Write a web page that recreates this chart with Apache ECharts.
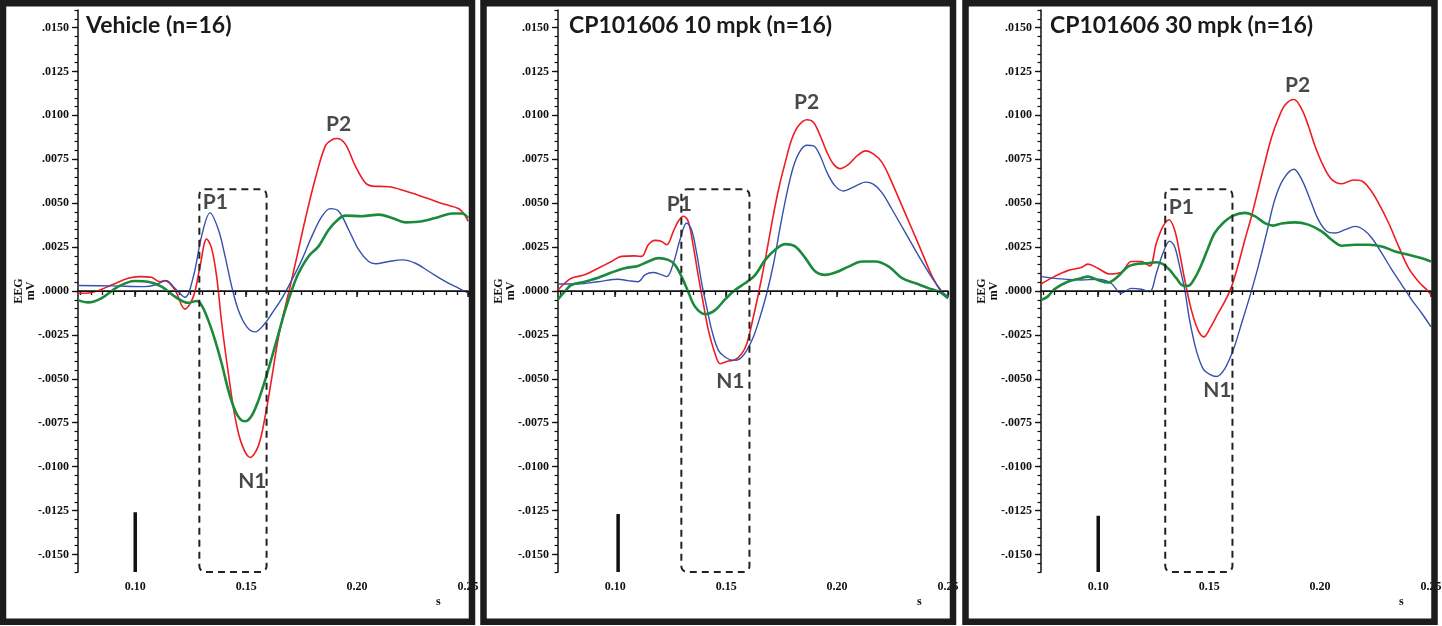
<!DOCTYPE html>
<html>
<head>
<meta charset="utf-8">
<title>EEG evoked potentials</title>
<script src="https://cdn.jsdelivr.net/npm/echarts@6.0.0/dist/echarts.min.js"></script>
<style>
    html, body { margin: 0; padding: 0; background: #ffffff; }
    #chart { width: 1442px; height: 626px; }
</style>
</head>
<body>
<div id="chart"></div>
<script>
// panel titles
const panelTitles = ['Vehicle (n=16)', 'CP101606 10 mpk (n=16)', 'CP101606 30 mpk (n=16)'];

// axis ticks
const xTicks = [0.10, 0.15, 0.20, 0.25];
const yTicks = [-0.015, -0.0125, -0.01, -0.0075, -0.005, -0.0025, 0, 0.0025, 0.005, 0.0075, 0.01, 0.0125, 0.015];

// ---- Vehicle ----
const vehRedT = [0.0742, 0.0799, 0.0893, 0.0968, 0.1021, 0.1073, 0.1111, 0.1134, 0.1179, 0.1224, 0.1262, 0.1292, 0.1322, 0.1344, 0.1367, 0.1390, 0.1420, 0.1450, 0.1480, 0.1518, 0.1555, 0.1585, 0.1616, 0.1646, 0.1676, 0.1698, 0.1729, 0.1766, 0.1811, 0.1857, 0.1887, 0.1909, 0.1947, 0.1992, 0.2037, 0.2068, 0.2143, 0.2218, 0.2309, 0.2399, 0.2459, 0.2489, 0.2500];
const vehRedV = [-0.00013, -0.0001, 0.00034, 0.00073, 0.00082, 0.00078, 0.00053, 0.00059, 0.00006, -0.00103, -0.00032, 0.00139, 0.00296, 0.00244, 0.00082, -0.00185, -0.00471, -0.00719, -0.00872, -0.00948, -0.00882, -0.00719, -0.0049, -0.00261, -0.0009, 0.00025, 0.00197, 0.00406, 0.00636, 0.00826, 0.00861, 0.00868, 0.00836, 0.00712, 0.00616, 0.00597, 0.00594, 0.00569, 0.00531, 0.00492, 0.00468, 0.00426, 0.00397];
const vehBlueT = [0.0742, 0.0893, 0.1043, 0.1088, 0.1141, 0.1179, 0.1224, 0.1262, 0.1299, 0.1337, 0.1375, 0.1405, 0.1435, 0.1465, 0.1503, 0.1540, 0.1578, 0.1616, 0.1661, 0.1706, 0.1751, 0.1796, 0.1842, 0.1879, 0.1917, 0.1962, 0.2007, 0.2052, 0.2083, 0.2143, 0.2203, 0.2263, 0.2324, 0.2399, 0.2459, 0.2500];
const vehBlueV = [0.00031, 0.00029, 0.00025, 0.00034, 0.00059, 0.00015, -0.00036, 0.00082, 0.00311, 0.00445, 0.00349, 0.00197, 0.00025, -0.00109, -0.00204, -0.00233, -0.00195, -0.00128, -0.00042, 0.00063, 0.00177, 0.00311, 0.00426, 0.00469, 0.00454, 0.00349, 0.00235, 0.00168, 0.00155, 0.00168, 0.00177, 0.00158, 0.00111, 0.00053, 0.00015, -0.0001];
const vehGreenT = [0.0742, 0.0787, 0.0847, 0.0923, 0.0998, 0.1058, 0.1119, 0.1179, 0.1239, 0.1277, 0.1299, 0.1329, 0.1360, 0.1390, 0.1420, 0.1450, 0.1473, 0.1495, 0.1525, 0.1555, 0.1585, 0.1616, 0.1646, 0.1676, 0.1706, 0.1736, 0.1781, 0.1826, 0.1872, 0.1917, 0.1947, 0.2022, 0.2098, 0.2158, 0.2218, 0.2293, 0.2369, 0.2429, 0.2474, 0.2500];
const vehGreenV = [-0.00052, -0.00065, -0.00042, 0.00025, 0.00057, 0.00053, 0.00025, -0.00032, -0.00067, -0.00057, -0.0008, -0.00166, -0.00281, -0.00414, -0.00567, -0.00681, -0.00729, -0.00742, -0.0071, -0.00624, -0.0051, -0.00376, -0.00242, -0.00109, 0.00006, 0.00101, 0.00197, 0.00254, 0.00349, 0.0041, 0.00429, 0.00426, 0.00435, 0.00416, 0.00391, 0.00397, 0.00422, 0.00441, 0.00441, 0.00416];

// ---- CP101606 10 mpk ----
const lowRedT = [0.0742, 0.0772, 0.0802, 0.0862, 0.0923, 0.0983, 0.1028, 0.1088, 0.1119, 0.1149, 0.1179, 0.1209, 0.1232, 0.1262, 0.1284, 0.1307, 0.1329, 0.1352, 0.1375, 0.1397, 0.1420, 0.1450, 0.1473, 0.1510, 0.1540, 0.1570, 0.1593, 0.1616, 0.1646, 0.1676, 0.1706, 0.1736, 0.1766, 0.1796, 0.1826, 0.1864, 0.1894, 0.1924, 0.1955, 0.1985, 0.2015, 0.2052, 0.2090, 0.2128, 0.2165, 0.2203, 0.2241, 0.2293, 0.2339, 0.2384, 0.2429, 0.2474, 0.2500];
const lowRedV = [0.00006, 0.00044, 0.00073, 0.00092, 0.0013, 0.00168, 0.00197, 0.002, 0.00197, 0.00263, 0.00288, 0.00282, 0.00263, 0.0034, 0.00397, 0.00426, 0.00397, 0.00254, 0.00082, -0.00071, -0.00223, -0.00357, -0.00414, -0.00399, -0.00391, -0.00357, -0.003, -0.00185, -0.00013, 0.00177, 0.00387, 0.00578, 0.00731, 0.00865, 0.00941, 0.00975, 0.0096, 0.00884, 0.00788, 0.00721, 0.00697, 0.00721, 0.00769, 0.00798, 0.00779, 0.00731, 0.00636, 0.00483, 0.00349, 0.00216, 0.00082, -0.00013, -0.00042];
const lowBlueT = [0.0742, 0.0832, 0.0923, 0.1013, 0.1058, 0.1103, 0.1134, 0.1171, 0.1209, 0.1232, 0.1262, 0.1292, 0.1322, 0.1344, 0.1367, 0.1390, 0.1412, 0.1435, 0.1465, 0.1495, 0.1533, 0.1563, 0.1593, 0.1623, 0.1653, 0.1683, 0.1714, 0.1744, 0.1774, 0.1804, 0.1834, 0.1864, 0.1894, 0.1924, 0.1955, 0.1992, 0.2030, 0.2068, 0.2098, 0.2128, 0.2165, 0.2203, 0.2248, 0.2309, 0.2369, 0.2429, 0.2474, 0.2500];
const lowBlueV = [0.0004, 0.0004, 0.00053, 0.00067, 0.00059, 0.00053, 0.00092, 0.00105, 0.00092, 0.00082, 0.00158, 0.00292, 0.00387, 0.00349, 0.00216, 0.00044, -0.0009, -0.00223, -0.00338, -0.00376, -0.00395, -0.00385, -0.00338, -0.00261, -0.00147, -0.00013, 0.00158, 0.00368, 0.00559, 0.00712, 0.00798, 0.0083, 0.00826, 0.00769, 0.00674, 0.00597, 0.00569, 0.00588, 0.00607, 0.0062, 0.00607, 0.00559, 0.00464, 0.0033, 0.00197, 0.00073, -0.00004, -0.00032];
const lowGreenT = [0.0742, 0.0772, 0.0802, 0.0862, 0.0923, 0.0983, 0.1043, 0.1103, 0.1149, 0.1194, 0.1239, 0.1269, 0.1299, 0.1329, 0.1360, 0.1405, 0.1450, 0.1495, 0.1540, 0.1585, 0.1631, 0.1676, 0.1721, 0.1766, 0.1811, 0.1857, 0.1902, 0.1947, 0.1992, 0.2052, 0.2113, 0.2173, 0.2233, 0.2293, 0.2354, 0.2414, 0.2459, 0.2500];
const lowGreenV = [-0.00048, -0.00004, 0.00034, 0.00053, 0.00076, 0.00105, 0.0013, 0.00143, 0.00168, 0.00187, 0.00177, 0.00149, 0.00082, -0.00004, -0.0009, -0.00132, -0.00109, -0.00048, 0.00006, 0.00044, 0.00092, 0.00177, 0.00235, 0.00267, 0.00254, 0.00187, 0.00111, 0.00092, 0.00105, 0.00139, 0.00168, 0.00168, 0.00139, 0.00073, 0.00044, 0.00015, -0.00004, -0.00042];

// ---- CP101606 30 mpk ----
const highRedT = [0.0742, 0.0802, 0.0862, 0.0923, 0.0953, 0.0998, 0.1051, 0.1103, 0.1149, 0.1194, 0.1232, 0.1262, 0.1292, 0.1319, 0.1344, 0.1367, 0.1390, 0.1420, 0.1450, 0.1476, 0.1503, 0.1540, 0.1570, 0.1601, 0.1631, 0.1661, 0.1691, 0.1721, 0.1751, 0.1781, 0.1811, 0.1842, 0.1882, 0.1917, 0.1947, 0.1977, 0.2015, 0.2052, 0.2098, 0.2150, 0.2188, 0.2226, 0.2263, 0.2309, 0.2354, 0.2399, 0.2444, 0.2482, 0.2500];
const highRedV = [0.0004, 0.00082, 0.00116, 0.00134, 0.00153, 0.0013, 0.00097, 0.00105, 0.00168, 0.00168, 0.00143, 0.00273, 0.00368, 0.00406, 0.00349, 0.00216, 0.00063, -0.00109, -0.00223, -0.00261, -0.00214, -0.00128, -0.00061, 0.00025, 0.00149, 0.00292, 0.00426, 0.00578, 0.00731, 0.00874, 0.00979, 0.01059, 0.0109, 0.01036, 0.00941, 0.00826, 0.00712, 0.00636, 0.00611, 0.00632, 0.00626, 0.00578, 0.00502, 0.00387, 0.00254, 0.0013, 0.00053, 0.00006, -0.00023];
const highBlueT = [0.0742, 0.0832, 0.0923, 0.0998, 0.1058, 0.1103, 0.1149, 0.1194, 0.1232, 0.1262, 0.1292, 0.1322, 0.1344, 0.1367, 0.1390, 0.1412, 0.1442, 0.1473, 0.1503, 0.1533, 0.1570, 0.1608, 0.1646, 0.1683, 0.1721, 0.1759, 0.1796, 0.1834, 0.1882, 0.1917, 0.1955, 0.1992, 0.2030, 0.2068, 0.2113, 0.2158, 0.2196, 0.2233, 0.2278, 0.2324, 0.2369, 0.2414, 0.2459, 0.2500];
const highBlueV = [0.00082, 0.00069, 0.00063, 0.00067, 0.00044, -0.00013, 0.00015, 0.0001, -0.00004, 0.00101, 0.00216, 0.00284, 0.00254, 0.00139, 0.00006, -0.00166, -0.00338, -0.00443, -0.00475, -0.00487, -0.00443, -0.00338, -0.00185, -0.00032, 0.00139, 0.0033, 0.00521, 0.00636, 0.00693, 0.00636, 0.00521, 0.00406, 0.0034, 0.0033, 0.00349, 0.00368, 0.00349, 0.00302, 0.00216, 0.0012, 0.00034, -0.00052, -0.00128, -0.00204];
const highGreenT = [0.0742, 0.0772, 0.0802, 0.0862, 0.0923, 0.0953, 0.0998, 0.1043, 0.1088, 0.1134, 0.1179, 0.1224, 0.1262, 0.1292, 0.1322, 0.1352, 0.1382, 0.1405, 0.1435, 0.1465, 0.1495, 0.1525, 0.1563, 0.1608, 0.1661, 0.1706, 0.1751, 0.1789, 0.1826, 0.1887, 0.1947, 0.2007, 0.2052, 0.2098, 0.2158, 0.2218, 0.2278, 0.2339, 0.2399, 0.2459, 0.2500];
const highGreenV = [-0.00052, -0.00032, 0.0001, 0.00053, 0.00073, 0.00082, 0.00063, 0.00048, 0.00082, 0.00139, 0.00155, 0.00158, 0.00164, 0.00153, 0.0012, 0.00073, 0.00031, 0.00029, 0.00073, 0.00149, 0.00244, 0.0033, 0.00387, 0.00429, 0.00445, 0.00426, 0.00387, 0.00372, 0.00384, 0.00391, 0.00378, 0.0034, 0.00292, 0.00258, 0.00263, 0.00263, 0.00254, 0.00225, 0.00206, 0.00187, 0.00168];

// stimulus marker (x, top) per panel
const stimX = [0.100, 0.1013, 0.100];
const stimTop = [-0.0126, -0.0127, -0.0128];

// dashed window around P1/N1: [start, end, top] per panel
const windowBox = [[0.1289, 0.1592, 0.0058], [0.1298, 0.1605, 0.0058], [0.1302, 0.1605, 0.0058]];

// component labels per panel
const peakNames = ['P1', 'N1', 'P2'];
const peakPos = [
    [[0.1361, 0.00507], [0.1528, -0.01083], [0.1917, 0.00952]],
    [[0.1289, 0.00496], [0.1519, -0.00513], [0.1863, 0.01077]],
    [[0.1375, 0.00479], [0.1537, -0.00564], [0.1899, 0.01174]]
];

const X_MIN = 0.0742, X_MAX = 0.25;
const Y_MIN = -0.016, Y_MAX = 0.016;

const panels = [
    { red: [vehRedT, vehRedV], blue: [vehBlueT, vehBlueV], green: [vehGreenT, vehGreenV] },
    { red: [lowRedT, lowRedV], blue: [lowBlueT, lowBlueV], green: [lowGreenT, lowGreenV] },
    { red: [highRedT, highRedV], blue: [highBlueT, highBlueV], green: [highGreenT, highGreenV] }
];

// minor tick positions
const xMinor = [];
for (let i = 0; i <= 35; i++) xMinor.push(+(0.075 + i * 0.005).toFixed(3));
const yMinor = [];
for (let i = 0; i <= 64; i++) yMinor.push(+(-0.016 + i * 0.0005).toFixed(4));

const gridLefts = [78, 558, 1041];
const titleLefts = [86, 569, 1050];
const sLefts = [436, 917, 1399];
const borders = [[3, 469], [483.5, 469.5], [965.5, 469]];

const serifFont = "'Liberation Serif', 'DejaVu Serif', serif";
const sansFont = "Lato, 'Open Sans', sans-serif";

function zip(t, v) {
    return t.map((x, i) => [x, v[i]]);
}

function yFmt(v) {
    const s = Math.abs(v).toFixed(4).slice(1);
    return (v < -1e-9 ? '-' : '') + s;
}

const grids = [], xAxes = [], yAxes = [], series = [], titles = [], graphics = [];

panels.forEach((p, i) => {
    grids.push({ left: gridLefts[i], top: 10, width: 390, height: 562, outerBoundsMode: 'none' });

    // main x axis
    xAxes.push({
        type: 'value', gridIndex: i, min: X_MIN, max: X_MAX, position: 'bottom',
        axisLine: { show: true, lineStyle: { color: '#111', width: 1.5 } },
        axisTick: { show: true, customValues: xTicks, length: 6, lineStyle: { color: '#111', width: 1.5 } },
        axisLabel: {
            customValues: xTicks, margin: 9, color: '#111',
            fontFamily: serifFont, fontWeight: 'bold', fontSize: 12,
            formatter: v => v.toFixed(2)
        },
        splitLine: { show: false }
    });
    // minor x ticks
    xAxes.push({
        type: 'value', gridIndex: i, min: X_MIN, max: X_MAX, position: 'bottom',
        axisLine: { show: false },
        axisTick: { show: true, customValues: xMinor, length: 4, lineStyle: { color: '#111', width: 1.3 } },
        axisLabel: { show: false },
        splitLine: { show: false }
    });
    // main y axis
    yAxes.push({
        type: 'value', gridIndex: i, min: Y_MIN, max: Y_MAX, position: 'left',
        name: 'EEG\nmV', nameLocation: 'middle', nameGap: 41, nameRotate: 90,
        nameMoveOverlap: false,
        nameTextStyle: { fontFamily: serifFont, fontWeight: 'bold', fontSize: 12, color: '#111', lineHeight: 12 },
        axisLine: { show: true, lineStyle: { color: '#111', width: 1.5 } },
        axisTick: { show: true, customValues: yTicks, length: 6, lineStyle: { color: '#111', width: 1.3 } },
        axisLabel: {
            customValues: yTicks, margin: 9, color: '#111',
            fontFamily: serifFont, fontWeight: 'bold', fontSize: 12,
            formatter: yFmt
        },
        splitLine: { show: false }
    });
    // minor y ticks
    yAxes.push({
        type: 'value', gridIndex: i, min: Y_MIN, max: Y_MAX, position: 'left',
        axisLine: { show: false },
        axisTick: { show: true, customValues: yMinor, length: 3.5, lineStyle: { color: '#111', width: 1.2 } },
        axisLabel: { show: false },
        splitLine: { show: false }
    });

    const xi = 2 * i, yi = 2 * i;

    series.push({
        type: 'line', xAxisIndex: xi, yAxisIndex: yi, data: zip(p.red[0], p.red[1]),
        smooth: 0.35, showSymbol: false, lineStyle: { color: '#ee1d23', width: 1.6 },
        markLine: {
            silent: true, symbol: 'none', label: { show: false },
            lineStyle: { color: '#111', width: 1.2, type: 'solid' },
            data: [{ yAxis: 0 }]
        },
        z: 3
    });
    series.push({
        type: 'line', xAxisIndex: xi, yAxisIndex: yi, data: zip(p.blue[0], p.blue[1]),
        smooth: 0.35, showSymbol: false, lineStyle: { color: '#3651ad', width: 1.4 }, z: 3
    });
    series.push({
        type: 'line', xAxisIndex: xi, yAxisIndex: yi, data: zip(p.green[0], p.green[1]),
        smooth: 0.35, showSymbol: false, lineStyle: { color: '#1c8a3c', width: 2.6 }, z: 3
    });

    // stimulus bar
    series.push({
        type: 'line', xAxisIndex: xi, yAxisIndex: yi,
        data: [[stimX[i], stimTop[i]], [stimX[i], Y_MIN]],
        showSymbol: false, lineStyle: { color: '#111', width: 3.5 }, z: 2
    });

    // dashed window
    series.push({
        type: 'custom', xAxisIndex: xi, yAxisIndex: yi,
        data: [windowBox[i]],
        encode: { x: [0, 1], y: 2 },
        renderItem: function (params, api) {
            const a = api.coord([api.value(0), api.value(2)]);
            const b = api.coord([api.value(1), Y_MIN]);
            return {
                type: 'rect',
                shape: { x: a[0], y: a[1], width: b[0] - a[0], height: b[1] - a[1], r: 6 },
                style: { fill: 'none', stroke: '#222', lineWidth: 2, lineDash: [7, 5] }
            };
        },
        z: 4
    });

    // component labels
    series.push({
        type: 'scatter', xAxisIndex: xi, yAxisIndex: yi, symbolSize: 0,
        data: peakPos[i].map((c, k) => ({ name: peakNames[k], value: c })),
        label: {
            show: true, position: 'inside', formatter: '{b}',
            fontFamily: sansFont, fontWeight: 'bold', fontSize: 21, color: '#1a1a1a'
        },
        z: 6
    });

    titles.push({
        text: panelTitles[i], left: titleLefts[i], top: 14, padding: 0,
        textStyle: { fontFamily: sansFont, fontWeight: 'bold', fontSize: 23, color: '#1a1a1a' }
    });

    graphics.push({
        type: 'text', left: sLefts[i], top: 596, z: 50,
        style: { text: 's', fontFamily: serifFont, fontWeight: 'bold', fontSize: 12, fill: '#111' }
    });
    graphics.push({
        type: 'rect', z: 100,
        shape: { x: borders[i][0], y: 3.2, width: borders[i][1], height: 618.5 },
        style: { fill: 'none', stroke: '#1c1c1c', lineWidth: 6.5 }
    });
});

const chart = echarts.init(document.getElementById('chart'));
chart.setOption({
    animation: false,
    backgroundColor: '#ffffff',
    title: titles,
    grid: grids,
    xAxis: xAxes,
    yAxis: yAxes,
    series: series,
    graphic: graphics
});
</script>
</body>
</html>
